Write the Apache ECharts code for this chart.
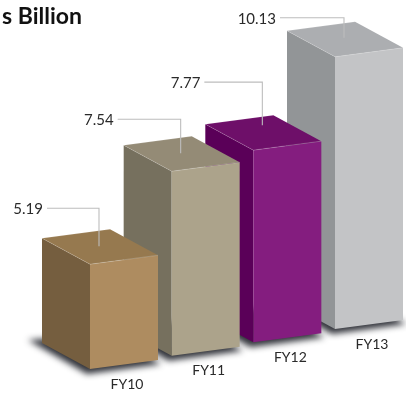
<!DOCTYPE html>
<html>
<head>
<meta charset="utf-8">
<style>html,body{margin:0;padding:0;background:#fff;overflow:hidden}#c{width:406px;height:394px}</style>
<script src="https://cdn.jsdelivr.net/npm/echarts@6/dist/echarts.min.js"></script>
</head>
<body>
<div id="c"></div>
<script>
// Fiscal year figures, in billions
const categories = ['FY10', 'FY11', 'FY12', 'FY13'];
const values = [5.19, 7.54, 7.77, 10.13];
const valueLabels = ['5.19', '7.54', '7.77', '10.13'];
const titleText = 's Billion';

// Face colours per bar
const frontColors = ['#AE8C60', '#ACA38B', '#841D7F', '#C3C4C6'];
const sideColors = ['#755E3F', '#76705E', '#5A0058', '#929597'];
const topColors = ['#96794F', '#948B76', '#6E0F69', '#ACAEB1'];

// Oblique box projection
const faceWidth = 68;
const faceRise = 9;
const depthX = 48;
const depthY = 26;
const stepRise = 13.33;

// Leader line layout per bar
const leaderRise = [38, 34, 43, 20];
const leaderInset = [18, 18, 25, 19];
const leaderRun = [52, 63, 58, 64];

const axisMin = 2.1;
const axisMax = 12.1;
const font = 'Lato, "Open Sans", sans-serif';

// The shadow caster sits off the canvas so that only its blurred shadow lands on it
const casterOffset = 2000;

function poly(points, fill, z2) {
  return { type: 'polygon', z2: z2, silent: true, shape: { points: points }, style: { fill: fill } };
}

function edge(a, b, z2, color) {
  return {
    type: 'line',
    z2: z2,
    silent: true,
    shape: { x1: a[0], y1: a[1], x2: b[0], y2: b[1] },
    style: { stroke: color, lineWidth: 0.8 }
  };
}

function renderBox(params, api) {
  const i = api.value(0);
  const v = api.value(1);
  const lift = stepRise * i;
  const x = api.coord([i, v])[0] - faceWidth / 2;
  const topY = api.coord([i, v])[1] - lift;
  const baseY = api.coord([i, axisMin])[1] - lift;
  const z = (categories.length - i) * 10;

  const fl = [x, topY];
  const fr = [x + faceWidth, topY - faceRise];
  const bl = [x - depthX, topY - depthY];
  const br = [x + faceWidth - depthX, topY - faceRise - depthY];
  const gl = [x, baseY];
  const gr = [x + faceWidth, baseY - faceRise];
  const gb = [x - depthX, baseY - depthY];
  const gk = [gr[0] - depthX, gr[1] - depthY];

  const caster = [
    [gb[0] - 14, gb[1] - 3],
    [gl[0] - 3, gl[1] + 5],
    [gr[0] + 3, gr[1] + 4],
    gk
  ].map(function (p) { return [p[0] - casterOffset, p[1]]; });

  const leaderX = x + faceWidth / 2 - 25;
  const leaderEnd = topY - leaderInset[i];
  const leaderTop = leaderEnd - leaderRise[i];

  return {
    type: 'group',
    children: [
      {
        type: 'polygon',
        z2: z,
        silent: true,
        shape: { points: caster },
        style: {
          fill: '#000',
          shadowBlur: 6,
          shadowOffsetX: casterOffset,
          shadowColor: 'rgba(40,42,50,0.95)'
        }
      },
      poly([bl, fl, gl, gb], sideColors[i], z + 1),
      poly([fl, fr, gr, gl], frontColors[i], z + 2),
      poly([bl, br, fr, fl], topColors[i], z + 3),
      edge(bl, fl, z + 4, 'rgba(255,255,255,0.2)'),
      edge(fl, fr, z + 4, 'rgba(255,255,255,0.25)'),
      edge(bl, br, z + 4, 'rgba(255,255,255,0.15)'),
      {
        type: 'polyline',
        z2: 200,
        silent: true,
        shape: { points: [
          [leaderX - leaderRun[i], leaderTop],
          [leaderX, leaderTop],
          [leaderX, leaderEnd]
        ] },
        style: { stroke: '#BDBDBD', lineWidth: 1.1, fill: 'none' }
      },
      {
        type: 'text',
        z2: 201,
        silent: true,
        style: {
          x: leaderX - leaderRun[i] - 4,
          y: leaderTop + 1,
          text: valueLabels[i],
          fill: '#2a2a2a',
          font: '15px ' + font,
          align: 'right',
          verticalAlign: 'middle'
        }
      },
      {
        type: 'text',
        z2: 201,
        silent: true,
        style: {
          x: x + faceWidth / 2 + 3,
          y: baseY + 15,
          text: categories[i],
          fill: '#2a2a2a',
          font: '14px ' + font,
          align: 'center',
          verticalAlign: 'middle'
        }
      }
    ]
  };
}

const chart = echarts.init(document.getElementById('c'), null, { renderer: 'canvas' });
chart.setOption({
  animation: false,
  backgroundColor: '#fff',
  title: {
    text: titleText,
    left: -3,
    top: 0,
    textStyle: { fontFamily: font, fontWeight: 'bold', fontSize: 23, color: '#111' }
  },
  grid: { left: 124, width: 245, top: 30, height: 339 },
  xAxis: { type: 'category', boundaryGap: false, data: categories, show: false },
  yAxis: { type: 'value', min: axisMin, max: axisMax, show: false },
  series: [{
    type: 'custom',
    clip: false,
    renderItem: renderBox,
    encode: { x: 0, y: 1 },
    data: values.map((v, i) => [i, v])
  }]
});
</script>
</body>
</html>
